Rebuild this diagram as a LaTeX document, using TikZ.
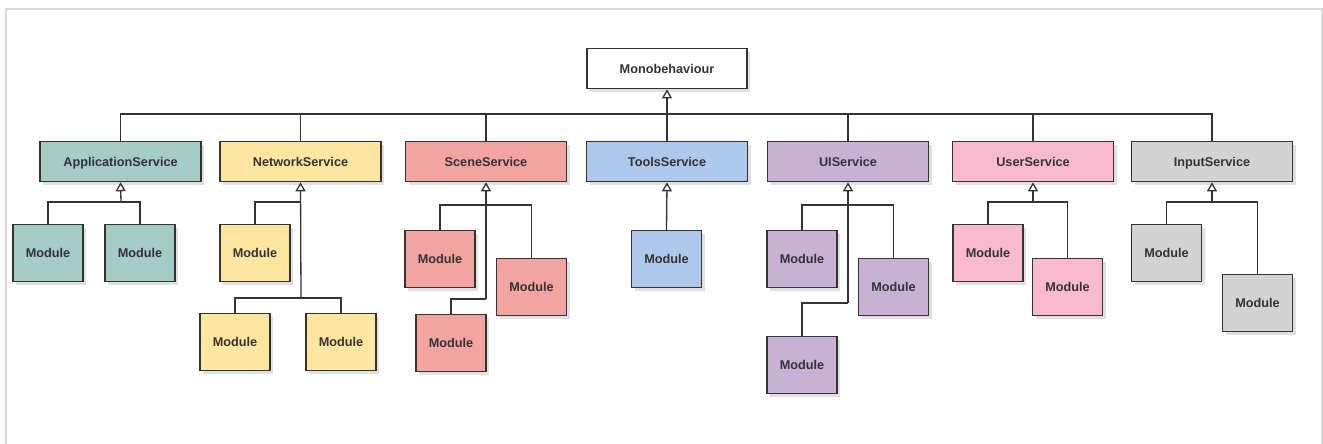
\documentclass[tikz,border=0pt]{standalone}
\usepackage{fontspec}
\setmainfont{Liberation Sans}
\usetikzlibrary{arrows.meta,shadows}

\definecolor{linecol}{HTML}{333333}
\definecolor{textcol}{HTML}{333333}
\definecolor{framecol}{HTML}{D9D9D9}
\definecolor{appcol}{HTML}{A4CCC4}
\definecolor{netcol}{HTML}{FFE6A0}
\definecolor{scenecol}{HTML}{F4A4A0}
\definecolor{toolcol}{HTML}{AEC8EC}
\definecolor{uicol}{HTML}{C7B1D5}
\definecolor{usercol}{HTML}{F9BACF}
\definecolor{inputcol}{HTML}{D3D3D3}

\begin{document}
\begin{tikzpicture}[x=1pt,y=-1pt,
	box/.style={draw=linecol, line width=1.3pt, inner sep=0pt, anchor=north, text=textcol,
		text height=9.1pt, text depth=0pt,
		font=\fontsize{12.7}{15}\selectfont\bfseries,
		drop shadow={shadow xshift=3pt, shadow yshift=-3pt, opacity=.35, fill=black!35}},
	service/.style={box, minimum width=161pt, minimum height=40pt},
	module/.style={box, minimum width=70pt, minimum height=57pt},
	conn/.style={draw=linecol, line width=1.3pt},
	inh/.style={conn, -{Triangle[open, width=10pt, length=9pt]}}]
	
	\useasboundingbox (0,0) rectangle (1323,444);
	\draw[framecol, line width=2.5pt] (6,9) rectangle (1322,456);
	
	% top class
	\node[box, fill=white, minimum width=160pt, minimum height=40pt] (mono) at (667,48) {Monobehaviour};
	
	% services
	\node[service, fill=appcol] (app) at (120.5,141) {ApplicationService};
	\node[service, fill=netcol] (net) at (300.5,141) {NetworkService};
	\node[service, fill=scenecol] (scene) at (486,141) {SceneService};
	\node[service, fill=toolcol] (tools) at (667,141) {ToolsService};
	\node[service, fill=uicol] (ui) at (848,141) {UIService};
	\node[service, fill=usercol] (user) at (1033,141) {UserService};
	\node[service, fill=inputcol] (input) at (1212,141) {InputService};
	
	% modules
	\node[module, fill=appcol] (app1) at (48,224) {Module};
	\node[module, fill=appcol] (app2) at (140,224) {Module};
	
	\node[module, fill=netcol] (net1) at (255,224) {Module};
	\node[module, fill=netcol] (net2) at (235,313) {Module};
	\node[module, fill=netcol] (net3) at (341,313) {Module};
	
	\node[module, fill=scenecol] (scene1) at (440,230) {Module};
	\node[module, fill=scenecol] (scene2) at (531.5,258) {Module};
	\node[module, fill=scenecol] (scene3) at (451,314) {Module};
	
	\node[module, fill=toolcol] (tools1) at (666.5,230) {Module};
	
	\node[module, fill=uicol] (ui1) at (802,230) {Module};
	\node[module, fill=uicol] (ui2) at (893.5,258) {Module};
	\node[module, fill=uicol] (ui3) at (802,336) {Module};
	
	\node[module, fill=usercol] (user1) at (988,224) {Module};
	\node[module, fill=usercol] (user2) at (1067.5,258) {Module};
	
	\node[module, fill=inputcol] (input1) at (1166.5,224) {Module};
	\node[module, fill=inputcol] (input2) at (1257.5,274) {Module};
	
	% junctions
	\coordinate (bus) at (667,114);
	\coordinate (appj) at (121,202);
	\coordinate (netj1) at (301,202);
	\coordinate (netj2) at (301,298);
	\coordinate (scenej1) at (486,205);
	\coordinate (scenej2) at (486,299);
	\coordinate (uij1) at (848,205);
	\coordinate (uij2) at (848,303);
	\coordinate (userj) at (1033,202);
	\coordinate (inputj) at (1212,202);
	
	% services to top class
	\draw[inh] (tools.north) -- (mono.south);
	\draw[conn] (app.north) |- (bus) -| (input.north);
	\foreach \s in {net,scene,ui,user}
		\draw[conn] (\s.north) -- (\s.north |- bus);
	
	% modules to services
	\draw[inh] (appj) -- (app.south);
	\draw[conn] (app1.north) |- (appj) -| (app2.north);
	
	\draw[inh] (netj2) -- (net.south);
	\draw[conn] (net1.north) |- (netj1);
	\draw[conn] (net2.north) |- (netj2) -| (net3.north);
	
	\draw[inh] (scenej2) -- (scene.south);
	\draw[conn] (scene1.north) |- (scenej1) -| (scene2.north);
	\draw[conn] (scene3.north) |- (scenej2);
	
	\draw[inh] (tools1.north) -- (tools.south);
	
	\draw[inh] (uij2) -- (ui.south);
	\draw[conn] (ui1.north) |- (uij1) -| (ui2.north);
	\draw[conn] (ui3.north) |- (uij2);
	
	\draw[inh] (userj) -- (user.south);
	\draw[conn] (user1.north) |- (userj) -| (user2.north);
	
	\draw[inh] (inputj) -- (input.south);
	\draw[conn] (input1.north) |- (inputj) -| (input2.north);
\end{tikzpicture}
\end{document}
